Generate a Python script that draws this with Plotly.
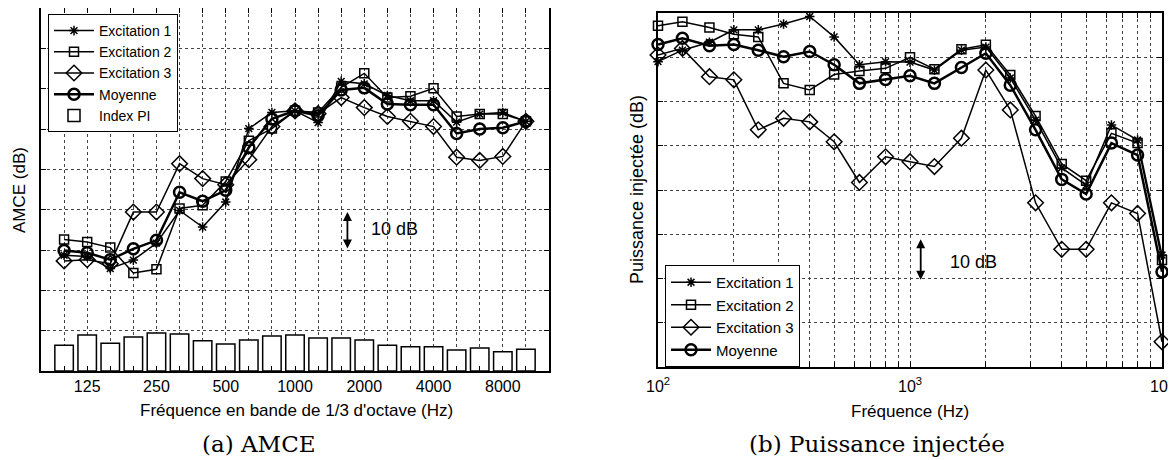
import plotly.graph_objects as go

# 1/3 octave bands (Hz)
bands = [100, 125, 160, 200, 250, 315, 400, 500, 630, 800, 1000,
         1250, 1600, 2000, 2500, 3150, 4000, 5000, 6300, 8000, 10000]
band_labels = ["125", "250", "500", "1000", "2000", "4000", "8000"]

# (a) AMCE (dB, arbitrary offset)
amce_exc1 = [28.7, 28.4, 25.4, 27.5, 31.7, 39.8, 35.7, 41.9, 60.1, 64.1, 64.5,
             61.6, 71.8, 71.2, 68.3, 67.0, 67.0, 61.7, 63.7, 64.1, 61.9]
amce_exc2 = [32.6, 32.0, 30.6, 24.3, 25.2, 40.3, 41.1, 47.0, 57.1, 60.1, 64.5,
             64.1, 70.3, 73.8, 67.8, 68.1, 70.1, 63.1, 63.7, 63.7, 61.9]
amce_exc3 = [27.3, 27.6, 26.6, 39.4, 39.4, 51.4, 47.7, 46.2, 52.4, 60.6, 64.5,
             63.8, 67.8, 65.3, 63.1, 61.9, 60.6, 53.0, 52.2, 53.2, 61.9]
amce_moy = [29.9, 29.3, 27.6, 30.3, 32.4, 44.3, 42.1, 44.8, 55.4, 62.5, 64.5,
            63.3, 69.7, 70.2, 66.2, 66.0, 66.0, 58.9, 60.0, 60.3, 61.9]
index_pi = [6.4, 8.9, 6.9, 8.4, 9.4, 9.2, 7.5, 6.7, 7.7, 8.7, 8.9,
            8.2, 8.2, 7.7, 6.4, 6.0, 6.0, 5.2, 5.7, 4.8, 5.4]

# (b) Puissance injectee (dB, arbitrary offset)
pw_exc1 = [69.0, 71.6, 73.4, 76.2, 76.2, 77.5, 79.2, 74.6, 68.3, 69.0, 68.9,
           67.1, 71.6, 72.3, 65.3, 55.8, 45.0, 41.1, 54.7, 51.3, 25.3]
pw_exc2 = [77.1, 78.0, 76.7, 75.2, 74.6, 64.1, 62.6, 66.1, 66.9, 67.5, 70.0,
           67.3, 71.8, 72.8, 66.0, 56.7, 45.9, 42.1, 52.8, 50.6, 24.2]
pw_exc3 = [70.5, 72.0, 65.6, 64.9, 53.6, 56.2, 55.4, 50.9, 41.7, 47.5, 46.4,
           45.3, 51.7, 67.1, 58.1, 37.1, 26.6, 26.6, 37.1, 34.7, 5.7]
pw_moy = [72.9, 74.3, 72.6, 72.9, 71.6, 70.1, 71.3, 68.3, 64.1, 65.0, 65.8,
          64.1, 67.7, 70.9, 63.7, 53.6, 42.4, 39.1, 50.6, 47.9, 21.5]

FONT = "Liberation Sans"
OFF = 8  # page body margin of the html output
W, H = 1176 - OFF, 460 - OFF
cats = [str(b) for b in bands]


def fx(px):
    return min(1, max(0, (px - OFF) / W))


def fy(py):
    return min(1, max(0, 1 - (py - OFF) / H))


styles = [
    ("Excitation 1", dict(symbol="asterisk-open", size=8, line=dict(width=1.5, color="black")), 1.5),
    ("Excitation 2", dict(symbol="square-open", size=9, line=dict(width=1.5, color="black")), 1.5),
    ("Excitation 3", dict(symbol="diamond-open", size=12, line=dict(width=1.5, color="black")), 1.5),
    ("Moyenne", dict(symbol="circle-open", size=11, line=dict(width=2.5, color="black")), 2.5),
]

fig = go.Figure()

for (name, mk, lw), ys in zip(styles, [amce_exc1, amce_exc2, amce_exc3, amce_moy]):
    fig.add_trace(go.Scatter(x=cats, y=ys, name=name, mode="lines+markers",
                             line=dict(color="black", width=lw), marker=dict(color="black", **mk),
                             xaxis="x", yaxis="y", legend="legend"))

fig.add_trace(go.Bar(x=cats, y=index_pi, name="Index PI", width=0.8,
                     marker=dict(color="white", line=dict(color="black", width=1.5)),
                     xaxis="x", yaxis="y", legend="legend"))

for (name, mk, lw), ys in zip(styles, [pw_exc1, pw_exc2, pw_exc3, pw_moy]):
    fig.add_trace(go.Scatter(x=bands, y=ys, name=name, mode="lines+markers", cliponaxis=False,
                             line=dict(color="black", width=lw), marker=dict(color="black", **mk),
                             xaxis="x2", yaxis="y2", legend="legend2"))

axis_common = dict(showline=True, linecolor="black", linewidth=1.5, mirror="ticks",
                   ticks="inside", ticklen=5, tickcolor="black", automargin=False,
                   showgrid=True, gridcolor="#444", griddash="dot", gridwidth=1,
                   zeroline=False, tickfont=dict(family=FONT, size=16, color="black"))

# tick text on left x: only octave labels
left_text = [c if c in band_labels else "" for c in cats]

log_vals = [m * 10 ** e for e in (2, 3) for m in range(1, 10)] + [10000]
log_text = ["10<sup>%d</sup>" % len(str(v)[1:]) if str(v).strip("0") == "1" else "" for v in log_vals]

fig.update_layout(
    template="none",
    width=W, height=H,
    margin=dict(l=0, r=0, t=0, b=0, autoexpand=False),
    paper_bgcolor="white", plot_bgcolor="white",
    font=dict(family=FONT, size=15, color="black"),
    xaxis=dict(domain=[fx(41), fx(549)], type="category", range=[-1, 21],
               tickvals=cats, ticktext=left_text, ticklabelstandoff=0, **axis_common),
    yaxis=dict(domain=[fy(371), fy(8)], range=[0, 90], dtick=10,
               showticklabels=False, **axis_common),
    xaxis2=dict(domain=[fx(658), fx(1162)], type="log", range=[2, 4], anchor="y2",
                tickvals=log_vals, ticktext=log_text, ticklabelstandoff=4, **axis_common),
    yaxis2=dict(domain=[fy(367), fy(13)], range=[0, 80], dtick=10, anchor="x2",
                showticklabels=False, **axis_common),
    legend=dict(x=fx(48), y=fy(14), xanchor="left", yanchor="top",
                bgcolor="white", bordercolor="black", borderwidth=1,
                font=dict(family=FONT, size=14), itemwidth=40, tracegroupgap=0),
    legend2=dict(x=fx(665), y=fy(265), xanchor="left", yanchor="top",
                 bgcolor="white", bordercolor="black", borderwidth=1,
                 font=dict(family=FONT, size=15), itemwidth=40, tracegroupgap=0),
    showlegend=True,
)


def label(text, px, py, size, angle=0, family=FONT):
    return dict(text=text, xref="paper", yref="paper", x=fx(px), y=fy(py),
                xanchor="center", yanchor="middle", showarrow=False, textangle=angle,
                font=dict(family=family, size=size))


ann = [
    label("Fréquence en bande de 1/3 d'octave (Hz)", 296, 410, 17),
    label("AMCE (dB)", 19, 190, 17, -90),
    label("Fréquence (Hz)", 910, 411, 17),
    label("Puissance injectée (dB)", 637, 190, 18, -90),
    label("(a) AMCE", 259, 444, 23, family="DejaVu Serif"),
    label("(b) Puissance injectée", 877, 444, 23, family="DejaVu Serif"),
]
# 10 dB scale arrows
ann.append(dict(x=12.27, y=30.4, ax=12.27, ay=39.8, xref="x", yref="y", axref="x", ayref="y",
                text="", showarrow=True, arrowhead=2, startarrowhead=2, arrowside="end+start",
                arrowwidth=1.8, arrowsize=1, arrowcolor="black"))
ann.append(dict(x=13.2, y=35.2, xref="x", yref="y", text="10 dB", showarrow=False,
                xanchor="left", yanchor="middle", font=dict(size=18)))
ann.append(dict(x=3.0425, y=19.7, ax=3.0425, ay=29.2, xref="x2", yref="y2", axref="x2", ayref="y2",
                text="", showarrow=True, arrowhead=2, startarrowhead=2, arrowside="end+start",
                arrowwidth=1.8, arrowsize=1, arrowcolor="black"))
ann.append(dict(x=3.15, y=23.8, xref="x2", yref="y2", text="10 dB", showarrow=False,
                xanchor="left", yanchor="middle", font=dict(size=18)))
fig.update_layout(annotations=ann)

fig.write_html("out.html")
